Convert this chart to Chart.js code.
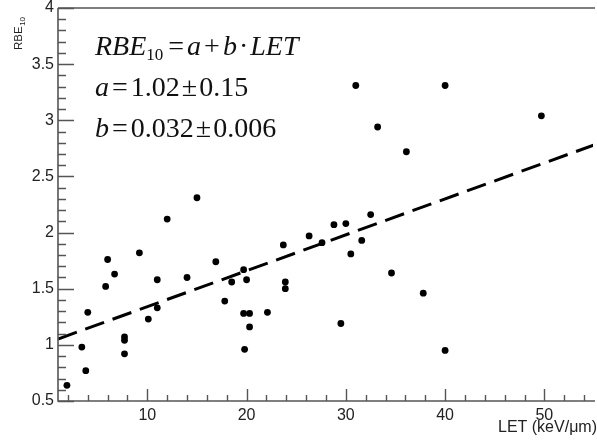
<!DOCTYPE html>
<html>
<head>
<meta charset="utf-8">
<script src="https://cdn.jsdelivr.net/npm/chart.js@4.4.0/dist/chart.umd.min.js"></script>
<style>
  html, body { margin: 0; padding: 0; background: #fff; }
  #chart { display: block; }
</style>
</head>
<body>
<canvas id="chart" width="597" height="441"></canvas>
<script>
// measured LET (keV/um) and RBE at 10% survival
const letValues = [1.9, 3.4, 3.8, 4.0, 5.8, 6.0, 6.7, 7.7, 7.7, 7.7, 9.2, 10.1, 11.0, 11.0, 12.0,
                   14.0, 15.0, 16.9, 17.8, 18.5, 19.7, 19.7, 19.8, 20.0, 20.3, 20.3, 22.1, 23.7,
                   23.9, 23.9, 26.3, 27.6, 28.8, 29.5, 30.0, 30.5, 31.0, 31.6, 32.5, 33.2, 34.6,
                   36.1, 37.8, 40.0, 40.0, 49.7];
const rbeValues = [0.64, 0.98, 0.77, 1.29, 1.52, 1.76, 1.63, 1.04, 1.07, 0.92, 1.82, 1.23, 1.58, 1.33, 2.12,
                   1.60, 2.31, 1.74, 1.39, 1.56, 1.67, 1.28, 0.96, 1.58, 1.28, 1.16, 1.29, 1.89,
                   1.56, 1.50, 1.97, 1.91, 2.07, 1.19, 2.08, 1.81, 3.31, 1.93, 2.16, 2.94, 1.64,
                   2.72, 1.46, 0.95, 3.31, 3.04];

const xTickValues = [10, 20, 30, 40, 50];
const yTickValues = [0.5, 1, 1.5, 2, 2.5, 3, 3.5, 4];

// straight line fit RBE10 = a + b*LET
const fitA = 1.02, fitErrA = 0.15;
const fitB = 0.032, fitErrB = 0.006;
const fitLet = [1, 55];

const axisColor = "#555";
const sans = '"Liberation Sans", Arial, sans-serif';
const serif = '"Liberation Serif", "Times New Roman", serif';

function drawRuns(ctx, x, y, runs) {
  for (const r of runs) {
    ctx.font = r.font;
    ctx.fillText(r.text, x, y + (r.dy || 0));
    x += ctx.measureText(r.text).width + (r.gap || 0);
  }
}

// frame, inside ticks and the text on top of the plot
const framePlugin = {
  id: "frame",
  afterDraw(chart) {
    const ctx = chart.ctx;
    const xs = chart.scales.x, ys = chart.scales.y;
    const a = chart.chartArea;
    ctx.save();
    ctx.strokeStyle = axisColor;
    ctx.lineWidth = 1.6;
    ctx.beginPath();
    ctx.moveTo(a.left, a.top);
    ctx.lineTo(a.left, a.bottom);
    ctx.lineTo(a.right + 2, a.bottom);
    ctx.moveTo(a.left, a.top);
    ctx.lineTo(a.right + 2, a.top);
    ctx.stroke();

    ctx.lineWidth = 1.4;
    ctx.beginPath();
    // y ticks every 0.1, long ones on the labels
    for (let i = 5; i <= 40; i++) {
      const v = i / 10;
      const py = Math.round(ys.getPixelForValue(v)) + 0.5;
      const len = yTickValues.includes(v) ? 16 : 8;
      ctx.moveTo(a.left, py);
      ctx.lineTo(a.left + len, py);
    }
    // x ticks every 2
    for (let v = 2; v <= 54; v += 2) {
      const px = Math.round(xs.getPixelForValue(v)) + 0.5;
      const len = xTickValues.includes(v) ? 12 : 6;
      ctx.moveTo(px, a.bottom);
      ctx.lineTo(px, a.bottom - len);
    }
    ctx.stroke();

    // axis titles
    ctx.fillStyle = "#222";
    ctx.textBaseline = "alphabetic";
    ctx.font = "16px " + sans;
    ctx.textAlign = "right";
    ctx.fillText("LET (keV/\u03bcm)", 597, 432);
    ctx.textAlign = "left";

    ctx.save();
    ctx.translate(22, 50);
    ctx.rotate(-Math.PI / 2);
    drawRuns(ctx, 0, 0, [
      { text: "RBE", font: "11.5px " + sans, gap: 0.5 },
      { text: "10", font: "8px " + sans, dy: 2.5 }
    ]);
    ctx.restore();

    // fit formula
    ctx.fillStyle = "#111";
    const it = "italic 28px " + serif, up = "28px " + serif;
    drawRuns(ctx, 95, 55, [
      { text: "RBE", font: it, gap: 0 },
      { text: "10", font: "17px " + serif, dy: 5, gap: 5 },
      { text: "=", font: up, gap: 3 },
      { text: "a", font: it, gap: 3 },
      { text: "+", font: up, gap: 3 },
      { text: "b", font: it, gap: 2 },
      { text: "\u00b7", font: up, gap: 2 },
      { text: "LET", font: it }
    ]);
    drawRuns(ctx, 95, 96, [
      { text: "a", font: it, gap: 3 },
      { text: "=", font: up, gap: 3 },
      { text: fitA.toFixed(2), font: up, gap: 2 },
      { text: "\u00b1", font: up, gap: 2 },
      { text: fitErrA.toFixed(2), font: up }
    ]);
    drawRuns(ctx, 95, 137, [
      { text: "b", font: it, gap: 3 },
      { text: "=", font: up, gap: 3 },
      { text: fitB.toFixed(3), font: up, gap: 2 },
      { text: "\u00b1", font: up, gap: 2 },
      { text: fitErrB.toFixed(3), font: up }
    ]);
    ctx.restore();
  }
};

const points = letValues.map((x, i) => ({ x: x, y: rbeValues[i] }));
const fitLine = fitLet.map((x) => ({ x: x, y: fitA + fitB * x }));

new Chart(document.getElementById("chart"), {
  type: "scatter",
  data: {
    datasets: [
      {
        type: "line",
        data: fitLine,
        borderColor: "#000",
        borderWidth: 3,
        borderDash: [20, 9],
        pointRadius: 0,
        fill: false
      },
      {
        data: points,
        backgroundColor: "#000",
        borderWidth: 0,
        pointRadius: 3.4
      }
    ]
  },
  options: {
    responsive: false,
    animation: false,
    layout: { padding: { top: 8, right: 0, left: 0, bottom: 0 } },
    plugins: { legend: { display: false }, tooltip: { enabled: false } },
    scales: {
      x: {
        type: "linear",
        min: 1,
        max: 54.9,
        grid: { display: false, drawTicks: false },
        border: { display: false },
        afterBuildTicks: (scale) => { scale.ticks = xTickValues.map((v) => ({ value: v })); },
        afterFit: (scale) => { scale.height = 40; scale.paddingLeft = 0; scale.paddingRight = 0; },
        ticks: { color: "#222", padding: 5, font: { family: sans, size: 16 }, maxRotation: 0 }
      },
      y: {
        type: "linear",
        min: 0.5,
        max: 4,
        grid: { display: false, drawTicks: false },
        border: { display: false },
        afterBuildTicks: (scale) => { scale.ticks = yTickValues.map((v) => ({ value: v })); },
        afterFit: (scale) => { scale.width = 58; scale.paddingTop = 0; scale.paddingBottom = 0; },
        ticks: {
          color: "#222",
          padding: 4,
          font: { family: sans, size: 16 },
          callback: (v) => String(v)
        }
      }
    }
  },
  plugins: [framePlugin]
});
</script>
</body>
</html>
